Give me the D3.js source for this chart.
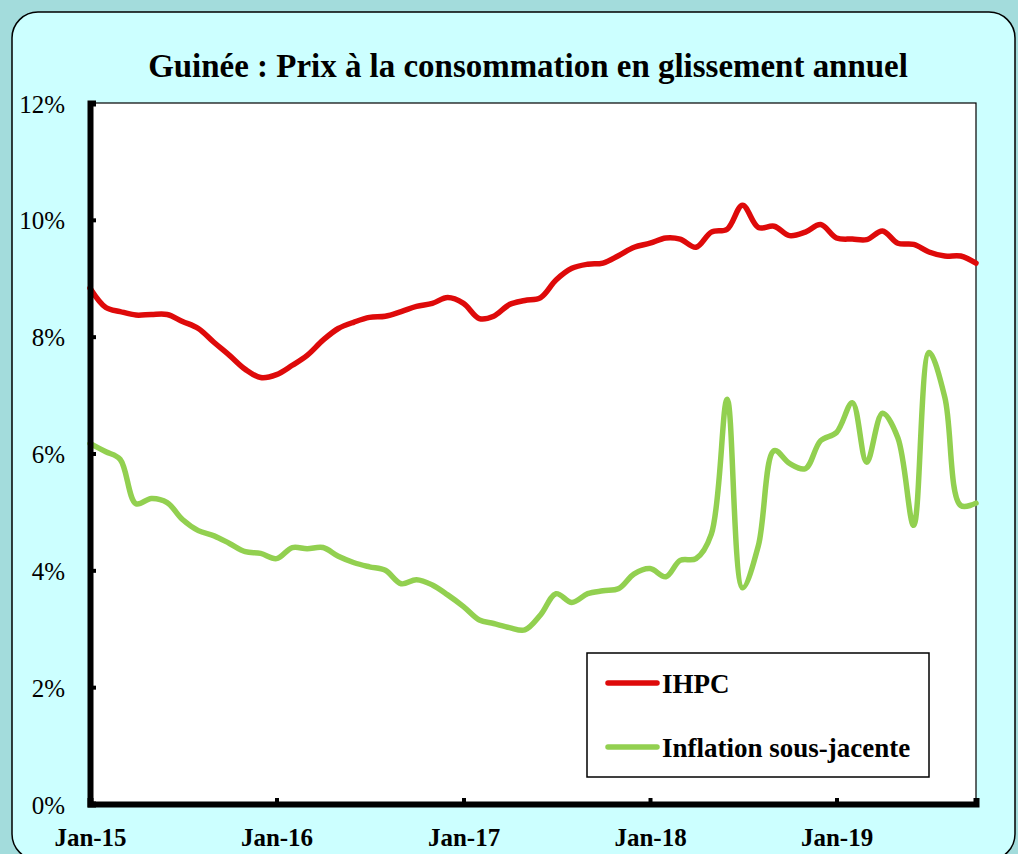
<html>
<head>
<style>
    body { margin: 0; background: #a3dcdc; }
    svg { display: block; }
</style>
<script src="https://cdn.jsdelivr.net/npm/d3@7"></script>
</head>
<body>
<div id="chart"></div>
<script>
    // monthly values, Jan-15 .. Oct-19 (58 months)
    let ihpc = [
        8.83, 8.50, 8.43, 8.37, 8.38, 8.38, 8.26, 8.14, 7.90, 7.68, 7.44, 7.30,
        7.35, 7.51, 7.68, 7.94, 8.14, 8.25, 8.33, 8.35, 8.43, 8.52, 8.57, 8.67,
        8.57, 8.31, 8.35, 8.55, 8.62, 8.67, 8.97, 9.17, 9.24, 9.26, 9.39, 9.53,
        9.60, 9.69, 9.67, 9.53, 9.79, 9.84, 10.25, 9.87, 9.89, 9.73, 9.79, 9.92,
        9.69, 9.67, 9.66, 9.81, 9.60, 9.58, 9.45, 9.38, 9.38, 9.26
    ];
    let sousJacente = [
        6.17, 6.03, 5.90, 5.14, 5.23, 5.16, 4.87, 4.68, 4.59, 4.46, 4.32, 4.29,
        4.20, 4.39, 4.37, 4.39, 4.24, 4.13, 4.06, 4.00, 3.77, 3.84, 3.75, 3.58,
        3.38, 3.15, 3.09, 3.02, 2.98, 3.24, 3.60, 3.45, 3.60, 3.65, 3.69, 3.94,
        4.03, 3.89, 4.17, 4.20, 4.62, 6.93, 3.70, 4.42, 6.05, 5.83, 5.74, 6.22,
        6.36, 6.87, 5.85, 6.69, 6.27, 4.77, 7.73, 6.96, 5.11, 5.15
    ];
    let seriesNames = ["IHPC", "Inflation sous-jacente"];
    let seriesColors = ["#de0a0a", "#92d050"];
    let yTicks = [0, 2, 4, 6, 8, 10, 12];
    let titleText = "Guinée : Prix à la consommation en glissement annuel";

    let width = 1018, height = 854;
    let margin = { top: 103, left: 90, right: 42, bottom: 50 };
    let plotW = 976 - margin.left;
    let plotH = 804 - margin.top;

    let months = d3.timeMonth.range(new Date(2015, 0, 1), new Date(2019, 10, 1));

    let svg = d3.select("#chart").append("svg")
        .attr("width", width).attr("height", height);

    // panel
    svg.append("rect")
        .attr("x", 12).attr("y", 12)
        .attr("width", 1003).attr("height", 848)
        .attr("rx", 26)
        .attr("fill", "#ccffff")
        .attr("stroke", "#000").attr("stroke-width", 1.5);

    let title = svg.append("text")
        .attr("x", 528).attr("y", 77)
        .attr("text-anchor", "middle")
        .style("font-family", "'Liberation Serif', serif")
        .style("font-weight", "bold")
        .style("font-size", "28px")
        .text(titleText);
    // fit the title to the original width
    let tw = title.node().getComputedTextLength();
    title.style("font-size", (28 * 760 / tw) + "px");

    let g = svg.append("g")
        .attr("transform", "translate(" + margin.left + "," + margin.top + ")");

    let x = d3.scaleTime()
        .domain([months[0], months[months.length - 1]])
        .range([0, plotW]);
    let y = d3.scaleLinear()
        .domain([0, 12])
        .range([plotH, 0]);

    g.append("rect")
        .attr("x", 0).attr("y", 0)
        .attr("width", plotW).attr("height", plotH)
        .attr("fill", "#fff")
        .attr("stroke", "#000").attr("stroke-width", 1.2);

    let line = d3.line()
        .x((d, i) => x(months[i]))
        .y(d => y(d))
        .curve(d3.curveCatmullRom.alpha(0.5));

    [ihpc, sousJacente].forEach((s, k) => {
        g.append("path")
            .datum(s)
            .attr("d", line)
            .attr("fill", "none")
            .attr("stroke", seriesColors[k])
            .attr("stroke-width", 5.5)
            .attr("stroke-linejoin", "round")
            .attr("stroke-linecap", "round");
    });

    // axes
    let yAxis = g.append("g")
        .call(d3.axisLeft(y).tickValues(yTicks).tickSize(-6).tickPadding(25)
            .tickFormat(d => d + "%"));
    let xAxis = g.append("g")
        .attr("transform", "translate(0," + plotH + ")")
        .call(d3.axisBottom(x).ticks(d3.timeYear.every(1)).tickSize(-6).tickPadding(24)
            .tickFormat(d3.timeFormat("Jan-%y")));

    [yAxis, xAxis].forEach(a => {
        a.select(".domain").attr("stroke", "#000").attr("stroke-width", 6);
        a.selectAll(".tick line").attr("stroke", "#000").attr("stroke-width", 4);
        a.selectAll("text")
            .attr("fill", "#000")
            .style("font-family", "'Liberation Serif', serif")
            .style("font-size", "25px");
    });
    xAxis.selectAll("text").style("font-weight", "bold");
    yAxis.selectAll("text").attr("dy", "0.36em");

    // legend
    let legend = g.append("g")
        .attr("transform", "translate(" + (587 - margin.left) + "," + (653 - margin.top) + ")");
    legend.append("rect")
        .attr("width", 342).attr("height", 124)
        .attr("fill", "#fff")
        .attr("stroke", "#000").attr("stroke-width", 1.5);
    seriesNames.forEach((name, k) => {
        let ly = 30 + k * 64;
        legend.append("line")
            .attr("x1", 21).attr("x2", 70)
            .attr("y1", ly).attr("y2", ly)
            .attr("stroke", seriesColors[k])
            .attr("stroke-width", 5.5)
            .attr("stroke-linecap", "round");
        legend.append("text")
            .attr("x", 75).attr("y", ly + 10)
            .style("font-family", "'Liberation Serif', serif")
            .style("font-weight", "bold")
            .style("font-size", "27px")
            .text(name);
    });
</script>
</body>
</html>
